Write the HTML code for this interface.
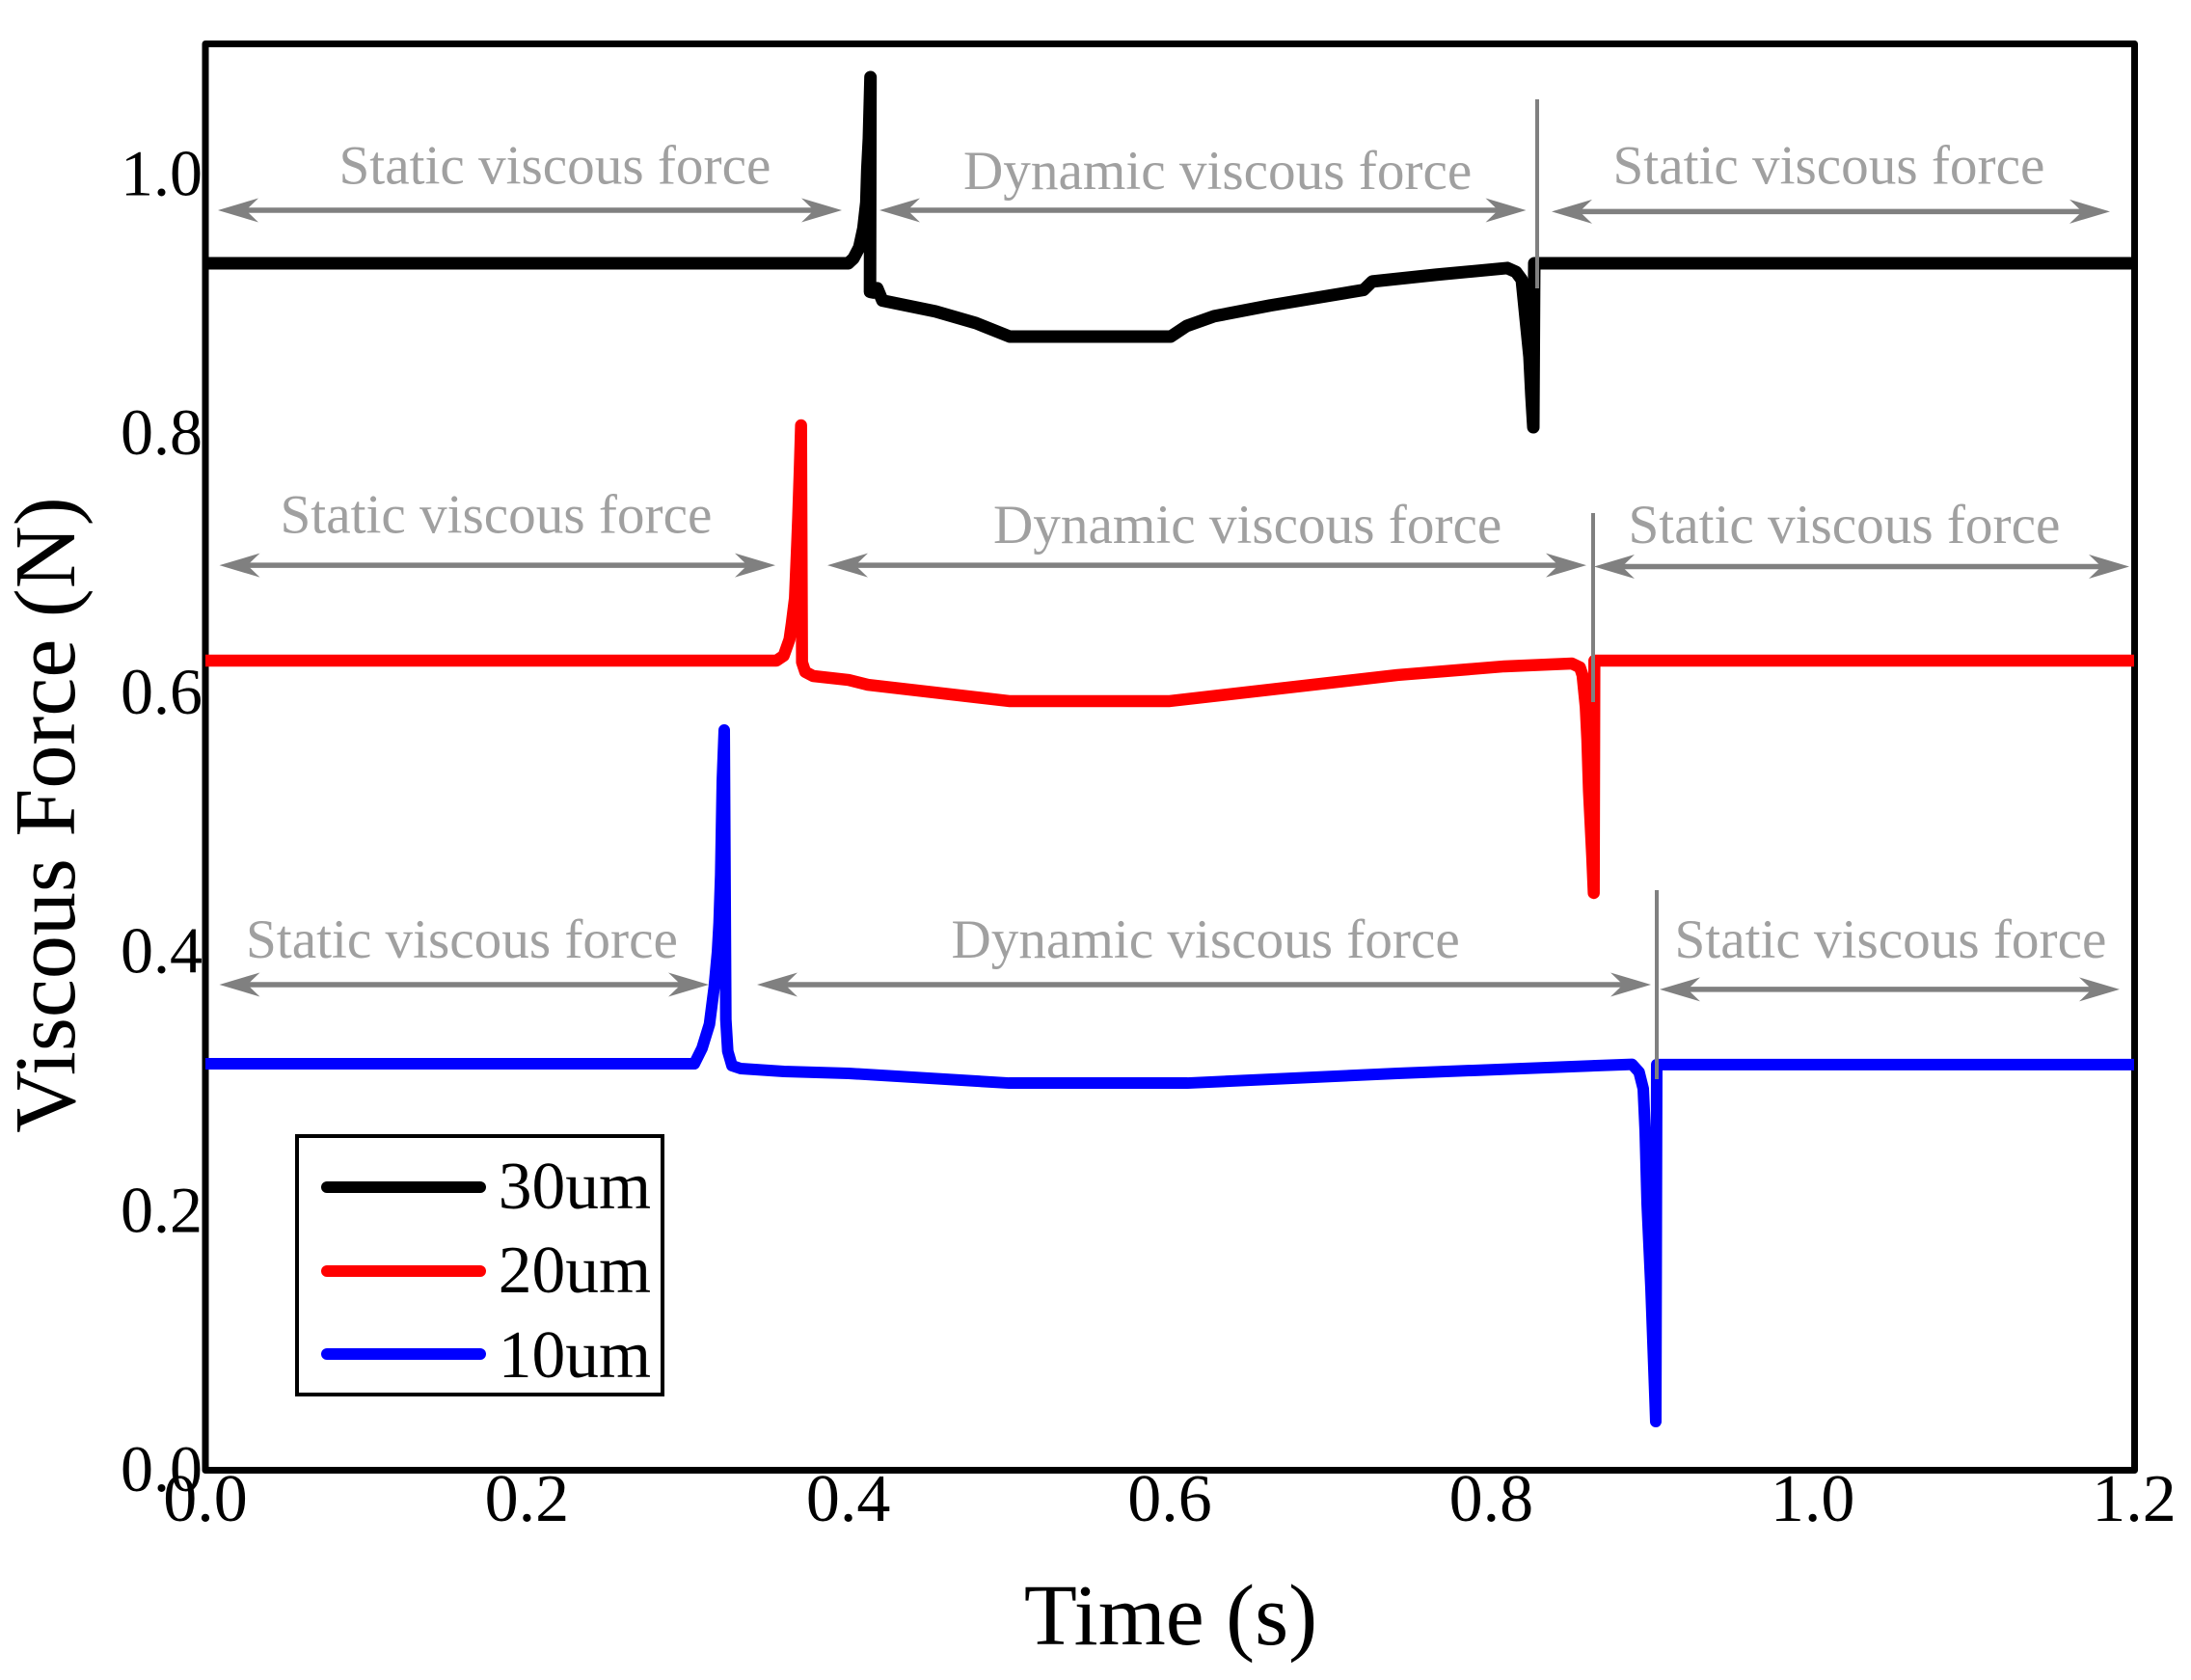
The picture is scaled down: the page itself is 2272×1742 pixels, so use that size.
<!DOCTYPE html>
<html lang="en">
<head>
<meta charset="utf-8">
<title>Viscous Force vs Time</title>
<style>
html,body{margin:0;padding:0;background:#fff;}
svg{display:block;}
text{font-family:"Liberation Serif","DejaVu Serif",serif;}
.tick{font-size:70px;fill:#000;}
.ytick{font-size:68px;fill:#000;}
.note{font-size:57.2px;fill:#a0a0a0;}
.title{font-size:90px;fill:#000;}
.leg{font-size:69.5px;fill:#000;text-anchor:end;}
</style>
</head>
<body>
<svg id="chart" width="2272" height="1742" viewBox="0 0 2272 1742" xmlns="http://www.w3.org/2000/svg">
  <rect x="0" y="0" width="2272" height="1742" fill="#fff"/>
  <g id="series-layer"></g>
  <rect x="213" y="45.5" width="2000.5" height="1479" fill="none" stroke="#000" stroke-width="7" stroke-linejoin="round"/>
  <g id="series-top"></g>
  <g id="annotation-layer"></g>
  <g id="tick-layer"></g>

  <text class="note" x="351.5" y="190.5">Static viscous force</text>
  <text class="note" x="999" y="196">Dynamic viscous force</text>
  <text class="note" x="1672.5" y="190.5">Static viscous force</text>
  <text class="note" x="290.5" y="552.5">Static viscous force</text>
  <text class="note" x="1030" y="563">Dynamic viscous force</text>
  <text class="note" x="1688.5" y="563">Static viscous force</text>
  <text class="note" x="255" y="993">Static viscous force</text>
  <text class="note" x="986.5" y="993">Dynamic viscous force</text>
  <text class="note" x="1736.5" y="993">Static viscous force</text>

  <text class="title" x="1214" y="1705" text-anchor="middle">Time (s)</text>
  <text class="title" transform="translate(77 845) rotate(-90)" text-anchor="middle">Viscous Force (N)</text>

  <g>
    <rect x="308" y="1178" width="379" height="268" fill="#fff" stroke="#000" stroke-width="4"/>
    <line x1="339" x2="498" y1="1231" y2="1231" stroke="#000" stroke-width="12" stroke-linecap="round"/>
    <text class="leg" x="675" y="1253">30um</text>
    <line x1="339" x2="498" y1="1318" y2="1318" stroke="#f00" stroke-width="12" stroke-linecap="round"/>
    <text class="leg" x="675" y="1340">20um</text>
    <line x1="339" x2="498" y1="1404" y2="1404" stroke="#00f" stroke-width="12" stroke-linecap="round"/>
    <text class="leg" x="675" y="1428">10um</text>
  </g>
</svg>
<script>
// Data values
const time30 = [0,0.4,0.4032,0.4068,0.4094,0.4112,0.4118,0.4128,0.4138,0.4135,0.4155,0.418,0.4212,0.4542,0.4794,0.5004,0.6006,0.6105,0.6276,0.6624,0.7206,0.726,0.7656,0.81,0.8154,0.819,0.8208,0.8238,0.825,0.8262,0.8268,1.2];
const force30 = [0.9311,0.9311,0.9348,0.9433,0.9581,0.978,1.0028,1.0276,1.0747,0.909,0.9085,0.9118,0.9023,0.8939,0.8849,0.8745,0.8745,0.8827,0.8902,0.8985,0.9105,0.917,0.9222,0.9274,0.9244,0.9184,0.8961,0.8589,0.8291,0.8045,0.9311,0.9311];
const time20 = [0,0.3552,0.3598,0.3634,0.3648,0.3668,0.3682,0.3688,0.3698,0.3706,0.3712,0.3732,0.3782,0.4002,0.4122,0.5,0.6,0.7417,0.8082,0.8502,0.8552,0.8568,0.8588,0.8598,0.8608,0.8628,0.8638,0.8642,1.2];
const force20 = [0.6244,0.6244,0.6282,0.6408,0.653,0.6728,0.7152,0.7348,0.772,0.806,0.6232,0.6157,0.6125,0.6095,0.6058,0.5932,0.5932,0.6133,0.62,0.6222,0.6192,0.6133,0.5887,0.5634,0.524,0.4741,0.4451,0.6244,0.6244];
const time10 = [0,0.3042,0.309,0.3136,0.3166,0.3186,0.3196,0.3206,0.3216,0.3228,0.3238,0.325,0.3276,0.333,0.36,0.4002,0.5,0.611,0.7417,0.8876,0.892,0.8946,0.8958,0.897,0.8994,0.9018,0.9024,0.903,1.2];
const force10 = [0.3133,0.3133,0.3253,0.3438,0.3729,0.3997,0.422,0.4592,0.5314,0.5708,0.3476,0.323,0.3119,0.3096,0.3074,0.3059,0.2984,0.2984,0.3059,0.3129,0.3069,0.294,0.2612,0.2054,0.14,0.058,0.0372,0.3127,0.3127];
const xTickValues = [0,0.2,0.4,0.6,0.8,1.0,1.2];
const xTickLabels = ["0.0","0.2","0.4","0.6","0.8","1.0","1.2"];
const yTickValues = [0,0.2,0.4,0.6,0.8,1.0];
const yTickLabels = ["0.0","0.2","0.4","0.6","0.8","1.0"];
// Annotation spans in data units: start time, end time, force level
const arrowStart = [0.0078,0.4194,0.8376,0.0087,0.387,0.864,0.0087,0.3432,0.9048];
const arrowEnd = [0.396,0.8217,1.185,0.3546,0.8592,1.197,0.3132,0.8994,1.191];
const arrowLevel = [0.972,0.972,0.971,0.698,0.698,0.697,0.3744,0.3744,0.3707];
const markerTime = [0.8286,0.8634,0.903];
const markerTop = [1.0576,0.7383,0.4473];
const markerBottom = [0.9117,0.5924,0.3014];

const NS = "http://www.w3.org/2000/svg";
function xScale(t){ return 213 + t * (2213 - 213) / 1.2; }
function yScale(v){ return 1524 - v * (1524 - 46) / 1.1; }

const seriesTop = document.getElementById("series-top");
const seriesNames = ["series-30um","series-20um","series-10um"];
const seriesTimes = [time30,time20,time10];
const seriesForces = [force30,force20,force10];
const seriesColors = ["#000","#f00","#00f"];
const seriesWidths = [13,12.5,12];
for (let s = 0; s < seriesNames.length; s++) {
  const path = document.createElementNS(NS,"path");
  let d = "";
  for (let i = 0; i < seriesTimes[s].length; i++) {
    d += (i ? "L" : "M") + xScale(seriesTimes[s][i]).toFixed(2) + " " + yScale(seriesForces[s][i]).toFixed(2);
  }
  path.setAttribute("d", d);
  path.setAttribute("fill", "none");
  path.setAttribute("stroke", seriesColors[s]);
  path.setAttribute("stroke-width", seriesWidths[s]);
  path.setAttribute("stroke-linejoin", "round");
  
  
  seriesTop.appendChild(path);
}

const annotationLayer = document.getElementById("annotation-layer");
for (let i = 0; i < arrowStart.length; i++) {
  const x1 = xScale(arrowStart[i]), x2 = xScale(arrowEnd[i]), y = yScale(arrowLevel[i]);
  const shaft = document.createElementNS(NS,"line");
  shaft.setAttribute("x1", x1 + 26);
  shaft.setAttribute("x2", x2 - 26);
  shaft.setAttribute("y1", y);
  shaft.setAttribute("y2", y);
  shaft.setAttribute("stroke", "#808080");
  shaft.setAttribute("stroke-width", "5.5");
  
  
  annotationLayer.appendChild(shaft);
  const left = document.createElementNS(NS,"polygon");
  left.setAttribute("points", x1+","+y+" "+(x1+42)+","+(y-12.5)+" "+(x1+29)+","+y+" "+(x1+42)+","+(y+12.5));
  left.setAttribute("fill", "#808080");
  
  
  annotationLayer.appendChild(left);
  const right = document.createElementNS(NS,"polygon");
  right.setAttribute("points", x2+","+y+" "+(x2-42)+","+(y-12.5)+" "+(x2-29)+","+y+" "+(x2-42)+","+(y+12.5));
  right.setAttribute("fill", "#808080");
  
  
  annotationLayer.appendChild(right);
}
for (let i = 0; i < markerTime.length; i++) {
  const v = document.createElementNS(NS,"line");
  v.setAttribute("x1", xScale(markerTime[i]));
  v.setAttribute("x2", xScale(markerTime[i]));
  v.setAttribute("y1", yScale(markerTop[i]));
  v.setAttribute("y2", yScale(markerBottom[i]));
  v.setAttribute("stroke", "#808080");
  v.setAttribute("stroke-width", "4");
  
  
  annotationLayer.appendChild(v);
}

const tickLayer = document.getElementById("tick-layer");
for (let i = 0; i < xTickValues.length; i++) {
  const t = document.createElementNS(NS,"text");
  t.setAttribute("class", "tick");
  t.setAttribute("x", xScale(xTickValues[i]));
  t.setAttribute("y", 1577);
  t.setAttribute("text-anchor", "middle");
  
  
  t.textContent = xTickLabels[i];
  tickLayer.appendChild(t);
}
for (let i = 0; i < yTickValues.length; i++) {
  const t = document.createElementNS(NS,"text");
  t.setAttribute("class", "ytick");
  t.setAttribute("x", 210);
  t.setAttribute("y", yScale(yTickValues[i]) + 22);
  t.setAttribute("text-anchor", "end");
  
  
  t.textContent = yTickLabels[i];
  tickLayer.appendChild(t);
}
</script>
</body>
</html>
